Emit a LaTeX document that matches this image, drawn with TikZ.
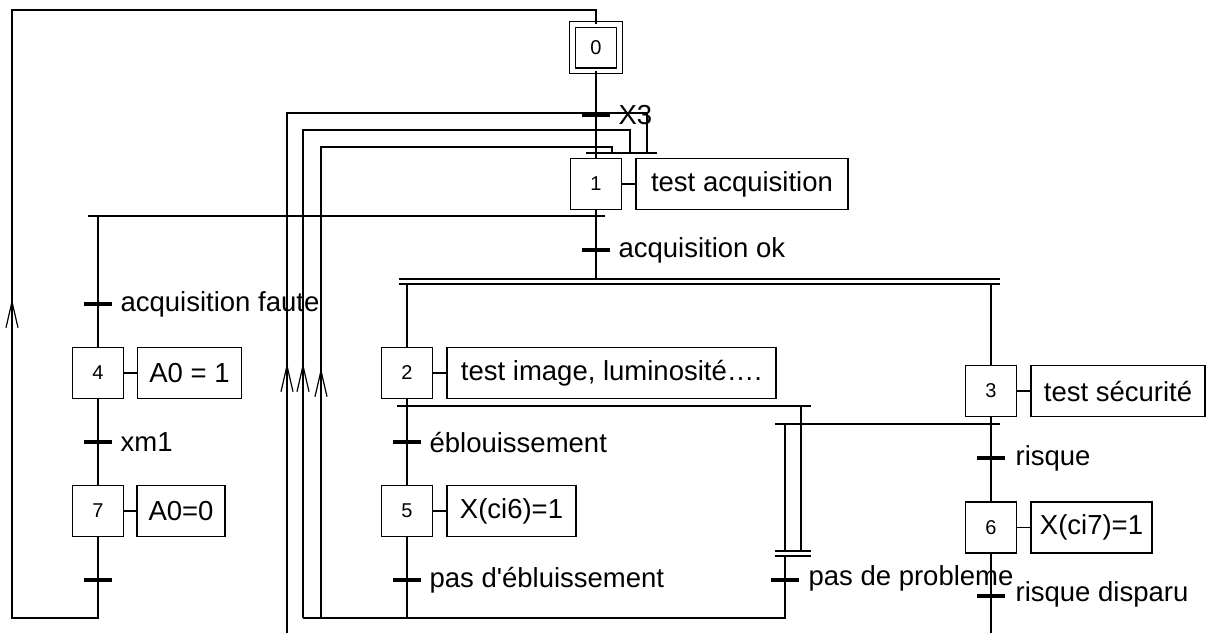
\documentclass[tikz,border=0pt]{standalone}
\usepackage{fontspec}
\setmainfont{Liberation Sans}
\usetikzlibrary{arrows.meta}
\tikzset{every picture/.style={line width=1.2pt}}
\tikzset{
	etape/.style={draw, minimum width=51pt, minimum height=51pt, inner sep=0pt, font=\fontsize{20}{20}\selectfont},
	etapeinit/.style={etape, double, double distance=4.5pt, minimum width=47pt, minimum height=46.5pt},
	action/.style={draw, minimum height=51pt, inner sep=0pt, font=\fontsize{27.5}{27.5}\selectfont},
	recept/.style={line width=3.2pt},
	recepttxt/.style={anchor=west, inner sep=0pt, font=\fontsize{27.5}{27.5}\selectfont},
	fleche/.style={-{Straight Barb[length=26pt,width=12pt]}}}

\begin{document}
\begin{tikzpicture}[x=1pt,y=1pt,yscale=-1,xscale=1]
	\useasboundingbox (0,0) rectangle (1206,633);

	%Shape: Steps
	\node[etapeinit] (e0) at (596,47.5) {0};
	\node[etape] (e1) at (596,184) {1};
	\node[etape] (e4) at (98,373) {4};
	\node[etape] (e7) at (98,511) {7};
	\node[etape] (e2) at (407,373) {2};
	\node[etape] (e5) at (407,511) {5};
	\node[etape] (e3) at (991,391) {3};
	\node[etape] (e6) at (991,527.5) {6};

	%Shape: Actions
	\node[action, minimum width=212pt] (a1) at (742,184) {test acquisition};
	\node[action, minimum width=104pt] (a4) at (189.5,373) {A0 = 1};
	\node[action, minimum width=88pt] (a7) at (181,511) {A0=0};
	\node[action, minimum width=329pt] (a2) at (611.5,373) {test image, luminosité….};
	\node[action, minimum width=129pt] (a5) at (511.5,511) {X(ci6)=1};
	\node[action, minimum width=174pt] (a3) at (1118,391) {test sécurité};
	\node[action, minimum width=121pt] (a6) at (1091.5,527.5) {X(ci7)=1};

	%Straight Lines: step to action
	\foreach \s in {1,2,3,4,5,6,7}
		\draw (e\s.east) -- (a\s.west);

	%Coordinates: transitions
	\coordinate (t0) at (596,115);
	\coordinate (t1) at (596,250);
	\coordinate (t4) at (98,304);
	\coordinate (t7) at (98,442);
	\coordinate (t9) at (98,580);
	\coordinate (t2) at (407,442);
	\coordinate (t5) at (407,580);
	\coordinate (t8) at (785,580);
	\coordinate (t3) at (991,458);
	\coordinate (t6) at (991,596);

	%Straight Lines: receptivities
	\foreach \t in {t0,t1,t4,t7,t9,t2,t5,t8,t3,t6}
		\draw[recept] ([xshift=-14pt]\t) -- ([xshift=14pt]\t);

	% Text Node
	\node[recepttxt] (r0) at (618,115) {X3};
	% Text Node
	\node[recepttxt] (r1) at (618,250) {acquisition ok};
	% Text Node
	\node[recepttxt] (r4) at (120,304) {acquisition faute};
	% Text Node
	\node[recepttxt] (r7) at (120,442) {xm1};
	% Text Node
	\node[recepttxt] (r2) at (429,442) {éblouissement};
	% Text Node
	\node[recepttxt] (r5) at (429,580) {pas d\textquotesingle ébluissement};
	% Text Node
	\node[recepttxt] (r8) at (808,578) {pas de probleme};
	% Text Node
	\node[recepttxt] (r3) at (1015,458) {risque};
	% Text Node
	\node[recepttxt] (r6) at (1015,594) {risque disparu};

	%Straight Lines: main column
	\draw (e0) -- (e1);
	\draw (e1) -- (596,279);
	\draw (88,216) -- (605,216);
	\draw (98,216) -- (e4);
	\draw (e4) -- (e7);
	\draw (e7) -- (98,618) -- (12,618) -- (12,10) -- (596,10) -- (e0);

	%Straight Lines: synchronisation bars
	\draw (399,279) -- (1000,279);
	\draw (399,284) -- (1000,284);
	\draw (586,153) -- (657,153);
	\draw (775,551) -- (811,551);
	\draw (775,556) -- (811,556);

	%Straight Lines: branches
	\draw (407,284) -- (e2);
	\draw (991,284) -- (e3);
	\draw (e2) -- (e5);
	\draw (e5) -- (407,618);
	\draw (e3) -- (e6);
	\draw (e6) -- (991,633);
	\draw (397,406) -- (811,406);
	\draw (801,406) -- (801,551);
	\draw (775,424) -- (1000,424);
	\draw (785,424) -- (785,551);
	\draw (785,556) -- (785,618) -- (303,618);
	\draw (407,618) -- (321,618);

	%Straight Lines: loops back to step 1
	\draw (287,633) -- (287,113) -- (647,113) -- (647,153);
	\draw (303,618) -- (303,130) -- (630,130) -- (630,153);
	\draw (321,618) -- (321,147) -- (612,147) -- (612,153);

	%Arrows
	\draw[fleche] (12,330) -- (12,299);
	\draw[fleche] (287,392) -- (287,363);
	\draw[fleche] (303,392) -- (303,363);
	\draw[fleche] (321,397) -- (321,368);

\end{tikzpicture}
\end{document}
